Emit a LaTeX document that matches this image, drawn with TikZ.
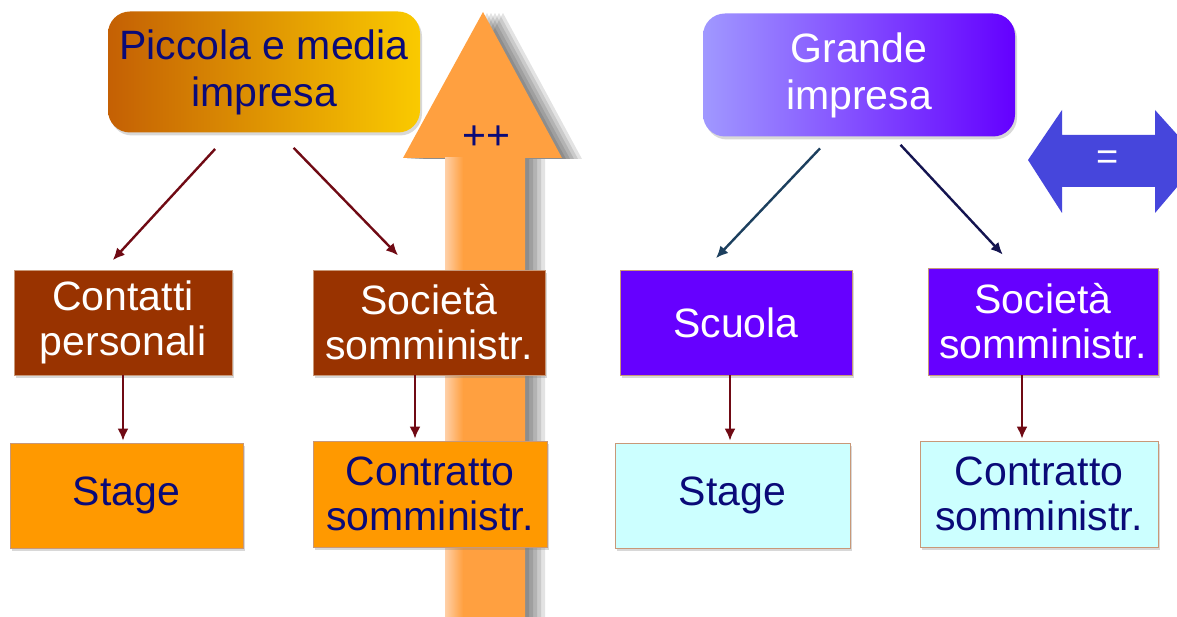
\documentclass[tikz,border=0pt]{standalone}
\usepackage{fontspec}
\setmainfont{Liberation Sans}
\usetikzlibrary{arrows.meta,shadows}
\definecolor{navytext}{HTML}{0A0A78}
\definecolor{brownbox}{HTML}{993300}
\definecolor{violetbox}{HTML}{6600FF}
\definecolor{orangebox}{HTML}{FF9900}
\definecolor{cyanbox}{HTML}{CCFFFF}
\definecolor{boxrim}{HTML}{C89878}
\definecolor{linkred}{HTML}{700A14}
\definecolor{linkteal}{HTML}{1C3F5E}
\definecolor{linknavy}{HTML}{141450}
\definecolor{bigarrow}{HTML}{FFA040}
\definecolor{bigarrowlight}{HTML}{FFD0A8}
\definecolor{eqarrow}{HTML}{4646DC}
\tikzset{
  box/.style={rectangle, inner sep=0pt, align=center, minimum width=232pt, minimum height=105pt,
    font=\fontsize{41}{45}\selectfont, draw=boxrim, line width=0.6pt,
    drop shadow={opacity=0.3, shadow xshift=2pt, shadow yshift=-3pt}},
  firm/.style={box, rounded corners=22pt, draw=none, minimum width=312pt, minimum height=121pt,
    font=\fontsize{41}{47}\selectfont},
  link/.style={line width=2.4pt, -{Latex[length=12pt,width=11pt]}},
}
\begin{document}
\begin{tikzpicture}[x=1pt,y=-1pt]
\clip (0,0) rectangle (1177,617);
\fill[white] (0,0) rectangle (1177,617);

% growth arrow behind the left tree
\foreach \s in {4,8,12,16,20}
  \fill[black, opacity=0.11, xshift=\s pt, yshift=-1pt] (445,640) -- (445,158) -- (403,158) -- (483,12) -- (562,158) -- (525,158) -- (525,640) -- cycle;
\fill[bigarrow] (445,640) -- (445,158) -- (403,158) -- (483,12) -- (562,158) -- (525,158) -- (525,640) -- cycle;
\shade[left color=bigarrowlight, right color=bigarrow] (445,158) rectangle (463,640);
\node[text=navytext, font=\fontsize{41}{45}\selectfont] (plus) at (486,138) {++};

% equal arrow, cut by the right edge
\fill[eqarrow] (1028,160) -- (1062,110) -- (1062,135) -- (1155,135) -- (1155,110) -- (1200,160) -- (1155,213) -- (1155,187) -- (1062,187) -- (1062,213) -- cycle;
\node[text=white, font=\fontsize{38}{40}\selectfont] (equal) at (1108,160) {=};

% small and medium firms
\node[firm, text=navytext, left color={rgb,255:red,196;green,96;blue,4}, right color={rgb,255:red,250;green,202;blue,0}] (pmi) at (264,72) {Piccola e media\\impresa};
\node[box, fill=brownbox, text=white, minimum width=218pt] (cp) at (123,322.5) {Contatti\\personali};
\node[box, fill=brownbox, text=white] (ss1) at (429,322.5) {Società\\somministr.};
\node[box, fill=orangebox, text=navytext, minimum width=233pt] (st1) at (126.5,495.5) {Stage};
\node[box, fill=orangebox, text=navytext, minimum width=234pt, minimum height=106pt] (cs1) at (430,494) {Contratto\\somministr.};

% large firms
\node[firm, text=white, left color={rgb,255:red,160;green,152;blue,255}, right color={rgb,255:red,100;green,0;blue,255}, minimum height=123pt] (gi) at (859,75) {Grande\\impresa};
\node[box, fill=violetbox, text=white] (sc) at (736,322.5) {Scuola};
\node[box, fill=violetbox, text=white, minimum width=230pt, minimum height=107pt] (ss2) at (1043,321.5) {Società\\somministr.};
\node[box, fill=cyanbox, text=navytext, minimum width=235pt] (st2) at (732.5,495.5) {Stage};
\node[box, fill=cyanbox, text=navytext, minimum width=238pt, minimum height=106pt] (cs2) at (1039,494) {Contratto\\somministr.};

% links
\draw[link, linkred, shorten <=22pt, shorten >=13pt] ([xshift=-34pt]pmi.south) -- ([xshift=-19pt]cp.north);
\draw[link, linkred, shorten <=21pt, shorten >=20pt] ([xshift=15pt]pmi.south) -- ([xshift=-17pt]ss1.north);
\draw[link, linkred, shorten >=2pt] (cp.south) -- (cp.south |- st1.north);
\draw[link, linkred, shorten >=2pt] ([xshift=-14pt]ss1.south) -- ([xshift=-14pt]ss1.south |- cs1.north);
\draw[link, linkteal, shorten <=16pt, shorten >=16pt] ([xshift=-28pt]gi.south) -- ([xshift=-31pt]sc.north);
\draw[link, linknavy, shorten <=11pt, shorten >=18pt] ([xshift=34pt]gi.south) -- ([xshift=-28pt]ss2.north);
\draw[link, linkred, shorten >=2pt] ([xshift=-6pt]sc.south) -- ([xshift=-6pt]sc.south |- st2.north);
\draw[link, linkred, shorten >=2pt] ([xshift=-21pt]ss2.south) -- ([xshift=-21pt]ss2.south |- cs2.north);
\end{tikzpicture}
\end{document}
